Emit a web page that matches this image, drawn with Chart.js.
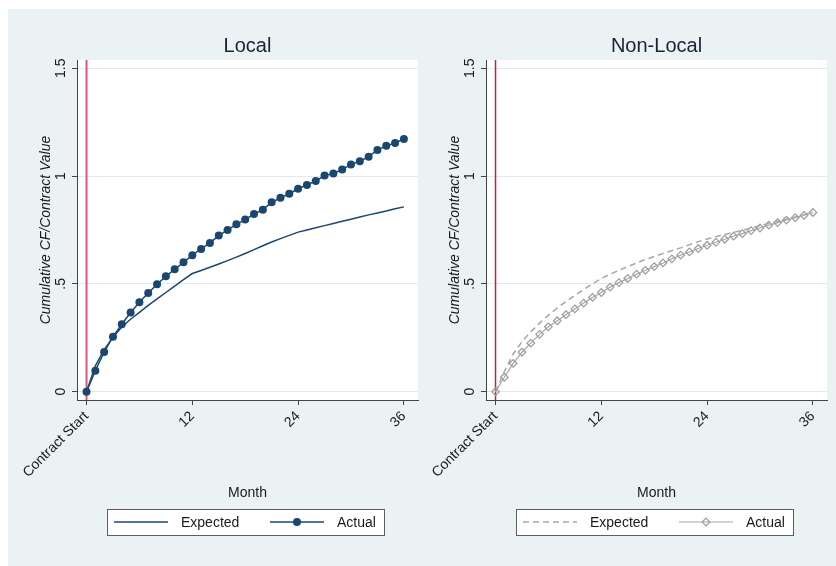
<!DOCTYPE html>
<html>
<head>
<meta charset="utf-8">
<script src="https://cdn.jsdelivr.net/npm/chart.js@4.4.1/dist/chart.umd.min.js"></script>
<style>
  html, body { margin: 0; padding: 0; background: #ffffff; width: 836px; height: 566px; overflow: hidden; }
  #bg { position: absolute; left: 8px; top: 9px; width: 828px; height: 557px; background: #eaf2f3; }
  canvas { position: absolute; top: 0; }
  #cLocal { left: 0; }
  #cNonLocal { left: 409px; }
</style>
</head>
<body>
<div id="bg"></div>
<canvas id="cLocal" width="422" height="566"></canvas>
<canvas id="cNonLocal" width="427" height="566"></canvas>
<script>
// Months since contract start
const months = [0, 1, 2, 3, 4, 5, 6, 7, 8, 9, 10, 11, 12, 13, 14, 15, 16, 17, 18,
                19, 20, 21, 22, 23, 24, 25, 26, 27, 28, 29, 30, 31, 32, 33, 34, 35, 36];

// Cumulative CF / contract value, local contracts
const localExpected = [0, 0.120, 0.195, 0.252, 0.300, 0.336, 0.368, 0.400, 0.430, 0.460,
                       0.490, 0.520, 0.548, 0.562, 0.577, 0.592, 0.608, 0.624, 0.641,
                       0.659, 0.677, 0.694, 0.710, 0.725, 0.740, 0.750, 0.760, 0.770,
                       0.780, 0.790, 0.800, 0.810, 0.820, 0.829, 0.838, 0.848, 0.857];
const localActual = [0, 0.097, 0.184, 0.255, 0.313, 0.367, 0.415, 0.458, 0.498, 0.535,
                     0.568, 0.600, 0.633, 0.662, 0.690, 0.724, 0.750, 0.776, 0.798,
                     0.824, 0.844, 0.878, 0.899, 0.918, 0.941, 0.959, 0.977, 1.002,
                     1.012, 1.030, 1.054, 1.068, 1.090, 1.121, 1.140, 1.153, 1.172];

// Cumulative CF / contract value, non-local contracts
const nonLocalExpected = [0, 0.093, 0.175, 0.232, 0.278, 0.318, 0.355, 0.388, 0.418, 0.447,
                          0.474, 0.500, 0.525, 0.545, 0.563, 0.580, 0.597, 0.613, 0.627,
                          0.641, 0.654, 0.667, 0.682, 0.696, 0.708, 0.719, 0.729, 0.739,
                          0.749, 0.760, 0.770, 0.780, 0.790, 0.800, 0.810, 0.821, 0.833];
const nonLocalActual = [0, 0.067, 0.131, 0.183, 0.225, 0.266, 0.301, 0.329, 0.357, 0.384,
                        0.411, 0.437, 0.460, 0.485, 0.506, 0.525, 0.545, 0.563, 0.580,
                        0.597, 0.616, 0.633, 0.648, 0.664, 0.679, 0.693, 0.707, 0.721,
                        0.733, 0.747, 0.759, 0.772, 0.784, 0.796, 0.807, 0.818, 0.831];

// Axis ticks
const xTickValues = [0, 12, 24, 36];
const xTickLabels = ['Contract Start', '12', '24', '36'];
const yTickValues = [0, 0.5, 1, 1.5];
const yTickLabels = ['0', '.5', '1', '1.5'];

const FONT = '"Liberation Sans", Arial, sans-serif';
const TEXT = '#1a1a1a';
const AXIS = '#454545';

function pts(vals) {
  return months.map((m, i) => ({ x: m, y: vals[i] }));
}

// Draws a legend swatch using the dataset's own line and point style
function drawSwatch(ctx, ds, x0, x1, y) {
  ctx.save();
  ctx.strokeStyle = ds.borderColor;
  ctx.lineWidth = ds.borderWidth;
  ctx.setLineDash(ds.borderDash || []);
  ctx.beginPath();
  ctx.moveTo(x0, y);
  ctx.lineTo(x1, y);
  ctx.stroke();
  ctx.setLineDash([]);
  if (ds.pointRadius > 0) {
    ctx.fillStyle = ds.pointBackgroundColor;
    ctx.strokeStyle = ds.pointBorderColor;
    Chart.helpers.drawPoint(ctx, {
      pointStyle: ds.pointStyle || 'circle',
      rotation: 0,
      radius: ds.pointRadius,
      borderWidth: ds.pointBorderWidth
    }, (x0 + x1) / 2, y);
  }
  ctx.restore();
}

const panelDecor = {
  id: 'panelDecor',
  beforeDraw(chart) {
    const { ctx, chartArea: a } = chart;
    ctx.save();
    ctx.fillStyle = '#ffffff';
    ctx.fillRect(a.left, a.top, a.right - a.left, a.bottom - a.top);
    ctx.restore();
  },
  beforeDatasetsDraw(chart, args, opts) {
    // vertical reference line at contract start
    const { ctx, chartArea: a } = chart;
    const x = chart.scales.x.getPixelForValue(0);
    ctx.save();
    ctx.strokeStyle = opts.xlineColor;
    ctx.lineWidth = opts.xlineWidth;
    ctx.beginPath();
    ctx.moveTo(x, a.top);
    ctx.lineTo(x, a.bottom);
    ctx.stroke();
    ctx.restore();
  },
  afterDraw(chart, args, opts) {
    const { ctx, chartArea: a } = chart;
    const ys = chart.scales.y;
    ctx.save();
    // panel title
    ctx.fillStyle = '#1c2233';
    ctx.font = '20px ' + FONT;
    ctx.textAlign = 'center';
    ctx.textBaseline = 'middle';
    ctx.fillText(opts.title, (a.left + a.right) / 2, 46);

    // vertical y tick labels
    ctx.fillStyle = TEXT;
    ctx.font = '14px ' + FONT;
    yTickValues.forEach((v, i) => {
      const py = ys.getPixelForValue(v);
      ctx.save();
      ctx.translate(a.left - 16, py);
      ctx.rotate(-Math.PI / 2);
      ctx.textAlign = 'center';
      ctx.textBaseline = 'middle';
      ctx.fillText(yTickLabels[i], 0, 0);
      ctx.restore();
    });

    // legend box
    const bx = a.left + 30, by = 509, bw = 277, bh = 26, cy = by + bh / 2;
    ctx.fillStyle = '#ffffff';
    ctx.fillRect(bx, by, bw, bh);
    ctx.strokeStyle = '#5e5e5e';
    ctx.lineWidth = 1;
    ctx.strokeRect(bx + 0.5, by + 0.5, bw, bh);
    const slots = [{ s0: 7, s1: 61, t: 74 }, { s0: 163, s1: 217, t: 230 }];
    chart.data.datasets.forEach((ds, i) => {
      const sl = slots[i];
      drawSwatch(ctx, ds, bx + sl.s0, bx + sl.s1, cy);
      ctx.fillStyle = TEXT;
      ctx.font = '14px ' + FONT;
      ctx.textAlign = 'left';
      ctx.textBaseline = 'middle';
      ctx.fillText(ds.label, bx + sl.t, cy + 1);
    });
    ctx.restore();
  }
};

function makeOptions(title, xlineColor, xlineWidth, padRight) {
  return {
    responsive: false,
    animation: false,
    devicePixelRatio: 1,
    layout: { padding: { top: 60, left: 0, right: padRight, bottom: 66 } },
    plugins: {
      legend: { display: false },
      tooltip: { enabled: false },
      panelDecor: { title, xlineColor, xlineWidth }
    },
    scales: {
      x: {
        type: 'linear',
        min: -1.08,
        max: 37.6,
        afterBuildTicks: s => { s.ticks = xTickValues.map(v => ({ value: v })); },
        afterFit: s => {
          s.height = 100;
          s.paddingLeft = 0; s.paddingRight = 0; s.paddingTop = 0; s.paddingBottom = 0;
        },
        ticks: {
          autoSkip: false,
          minRotation: 45,
          maxRotation: 45,
          padding: 3,
          color: TEXT,
          font: { size: 14, family: FONT },
          callback: (v, i) => xTickLabels[i]
        },
        grid: { drawOnChartArea: false, drawTicks: true, tickLength: 5, tickColor: AXIS },
        border: { display: true, color: AXIS, width: 1 },
        title: {
          display: true, text: 'Month', color: TEXT,
          font: { size: 14, family: FONT }, padding: { top: 0, bottom: -2 }
        }
      },
      y: {
        type: 'linear',
        min: -0.0384,
        max: 1.538,
        afterBuildTicks: s => { s.ticks = yTickValues.map(v => ({ value: v })); },
        afterFit: s => {
          s.width = 77;
          s.paddingLeft = 0; s.paddingRight = 0; s.paddingTop = 0; s.paddingBottom = 0;
        },
        ticks: { display: false },
        grid: { color: '#e0eaee', lineWidth: 1, drawTicks: true, tickLength: 5, tickColor: AXIS },
        border: { display: true, color: AXIS, width: 1 },
        title: {
          display: true, text: 'Cumulative CF/Contract Value', color: TEXT,
          font: { size: 14, family: FONT, style: 'italic' }, padding: { top: 38, bottom: 0 }
        }
      }
    }
  };
}

const NAVY = '#1a476f';
const GREY = '#a6a6a6';

new Chart(document.getElementById('cLocal'), {
  type: 'line',
  data: {
    datasets: [
      {
        label: 'Expected', data: pts(localExpected),
        borderColor: NAVY, borderWidth: 1.5, pointRadius: 0, tension: 0
      },
      {
        label: 'Actual', data: pts(localActual),
        borderColor: NAVY, borderWidth: 1.5, pointRadius: 4, pointStyle: 'circle',
        pointBackgroundColor: NAVY, pointBorderColor: NAVY, pointBorderWidth: 0, tension: 0
      }
    ]
  },
  options: makeOptions('Local', '#d6567a', 2, 4),
  plugins: [panelDecor]
});

new Chart(document.getElementById('cNonLocal'), {
  type: 'line',
  data: {
    datasets: [
      {
        label: 'Expected', data: pts(nonLocalExpected),
        borderColor: GREY, borderWidth: 1.5, borderDash: [6, 4], pointRadius: 0, tension: 0
      },
      {
        label: 'Actual', data: pts(nonLocalActual),
        borderColor: GREY, borderWidth: 1.2, pointRadius: 3.8, pointStyle: 'rectRot',
        pointBackgroundColor: 'rgba(255,255,255,0)', pointBorderColor: '#9c9c9c',
        pointBorderWidth: 1.2, tension: 0
      }
    ]
  },
  options: makeOptions('Non-Local', '#c81e46', 1.5, 9),
  plugins: [panelDecor]
});
</script>
</body>
</html>
